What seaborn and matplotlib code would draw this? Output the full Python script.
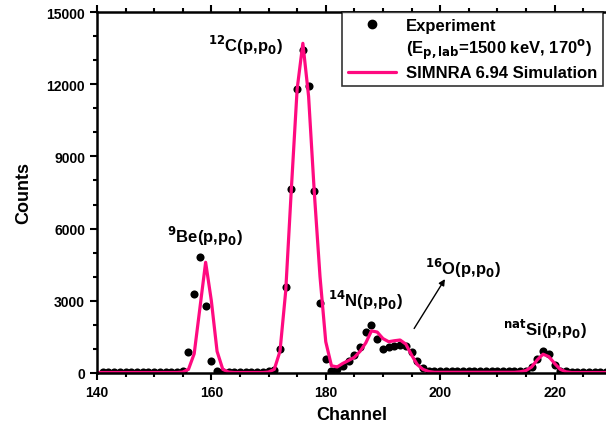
import numpy as np
import pandas as pd
import matplotlib
matplotlib.use('Agg')
import matplotlib.pyplot as plt
import seaborn as sns
from matplotlib.lines import Line2D
from matplotlib.ticker import MultipleLocator

# experiment points (channel, counts)
exp_canal = list(range(141, 230))
exp_cuentas = [
    60, 60, 60, 60, 60, 60, 60, 60, 60, 60, 60, 60, 60, 60, 90,          # 141-155
    880, 3300, 4800, 2800, 500, 80,                                      # 156-161
    60, 60, 60, 60, 60, 60, 60, 60, 70,                                  # 162-170
    120, 1000, 3590, 7640, 11800, 13430, 11920, 7575, 2910, 580,         # 171-180
    100, 170, 300, 480, 750, 1070, 1720, 1990, 1410, 1000,               # 181-190
    1070, 1140, 1170, 1130, 880, 500, 200, 90, 80, 90,                   # 191-200
    100, 100, 100, 90, 90, 90, 90, 90, 80, 80, 80, 80, 80, 90,           # 201-214
    100, 250, 600, 930, 780, 350, 100,                                   # 215-221
    70, 60, 60, 60, 60, 60, 60, 60,                                      # 222-229
]

# SIMNRA simulation (channel, counts)
sim_canal = list(range(140, 230))
sim_cuentas = [
    20, 20, 20, 20, 20, 20, 20, 20, 20, 20, 20, 20, 20, 20, 20, 40,      # 140-155
    150, 800, 2700, 4600, 3000, 900, 150, 40,                            # 156-163
    20, 20, 20, 20, 20, 20, 40,                                          # 164-170
    150, 900, 3400, 7700, 11800, 13700, 11500, 7500, 4000, 1300,         # 171-180
    300, 250, 400, 520, 650, 900, 1250, 1750, 1700, 1430,                # 181-190
    1300, 1340, 1370, 1200, 750, 350, 150, 60, 30, 30,                   # 191-200
    30, 30, 30, 30, 30, 30, 30, 30, 30, 30, 30, 30, 30, 50,              # 201-214
    100, 250, 550, 780, 680, 400, 150, 50,                               # 215-222
    20, 20, 20, 20, 20, 20, 20,                                          # 223-229
]

df_exp = pd.DataFrame({'Channel': exp_canal, 'Counts': exp_cuentas})
df_sim = pd.DataFrame({'Channel': sim_canal, 'Counts': sim_cuentas})

sns.set_style('ticks')
plt.rcParams['font.family'] = ['Liberation Sans', 'DejaVu Sans']
plt.rcParams['font.weight'] = 'bold'
plt.rcParams['mathtext.default'] = 'bf'
for clave in ['text.color', 'axes.labelcolor', 'xtick.color', 'ytick.color', 'axes.edgecolor']:
    plt.rcParams[clave] = 'black'

ROSA = '#FF0A80'

fig = plt.figure(figsize=(6.06, 4.31), dpi=100)
ax = fig.add_axes([0.160, 0.1323, 0.840, 0.8375])

sns.scatterplot(data=df_exp, x='Channel', y='Counts', ax=ax, color='black',
                s=34, edgecolor='black', linewidth=0, zorder=2)
sns.lineplot(data=df_sim, x='Channel', y='Counts', ax=ax, color=ROSA,
             linewidth=2.3, zorder=3)

ax.set_xlim(140, 229)
ax.set_ylim(0, 15000)
ax.xaxis.set_major_locator(MultipleLocator(20))
ax.xaxis.set_minor_locator(MultipleLocator(5))
ax.yaxis.set_major_locator(MultipleLocator(3000))
ax.yaxis.set_minor_locator(MultipleLocator(1000))
ax.tick_params(axis='both', which='major', length=5, width=1.5, labelsize=10)
ax.tick_params(axis='both', which='minor', length=3, width=1.5)
ax.tick_params(axis='x', which='both', top=True, direction='out')
for lab in ax.get_xticklabels() + ax.get_yticklabels():
    lab.set_fontweight('bold')

for lado in ['left', 'bottom', 'top']:
    ax.spines[lado].set_linewidth(1.8)
    ax.spines[lado].set_zorder(5)
ax.spines['right'].set_visible(False)

ax.set_xlabel('Channel', fontsize=13, fontweight='bold', labelpad=5)
ax.set_ylabel('Counts', fontsize=13, fontweight='bold', labelpad=10)

# peak labels
etiq = dict(fontsize=12, fontweight='bold', ha='center', va='center')
ax.text(166.0, 13650, r'$^{12}$C(p,p$_0$)', **etiq)
ax.text(158.9, 5700, r'$^{9}$Be(p,p$_0$)', **etiq)
ax.text(187.0, 3070, r'$^{14}$N(p,p$_0$)', **etiq)
ax.text(203.9, 4400, r'$^{16}$O(p,p$_0$)', **etiq)
ax.text(218.3, 1830, r'$^{nat}$Si(p,p$_0$)', **etiq)
ax.annotate('', xy=(201.1, 4000), xytext=(195.2, 1750),
            arrowprops=dict(arrowstyle='-|>', color='black', lw=1.0,
                            mutation_scale=9))

# legend
manejadores = [
    Line2D([], [], linestyle='none', marker='o', color='black', markersize=6),
    Line2D([], [], linestyle='none'),
    Line2D([], [], color=ROSA, linewidth=2.3),
]
textos = ['Experiment', r'(E$_{p,lab}$=1500 keV, 170$^o$)', 'SIMNRA 6.94 Simulation']
leg = ax.legend(manejadores, textos, loc='upper right', bbox_to_anchor=(0.995, 1.0),
                borderaxespad=0, frameon=True, fancybox=False, handlelength=2.9,
                prop={'size': 12, 'weight': 'bold'}, labelspacing=0.25,
                borderpad=0.35, handletextpad=0.6)
leg.get_frame().set_edgecolor('black')
leg.get_frame().set_linewidth(1.2)
leg.set_zorder(6)

fig.savefig('out.png', dpi=100)
